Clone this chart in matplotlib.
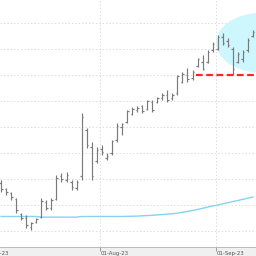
import matplotlib
matplotlib.use('Agg')
import matplotlib.pyplot as plt
from matplotlib.patches import Ellipse
from matplotlib.transforms import Bbox

# daily OHLC, trading-day index 0 = 03-Jul-23
bar_open = [43.7, 43.2, 42.9, 42.5, 41.3, 41.0, 40.3, 40.7, 41.1, 42.2,
            41.8, 42.5, 44.2, 43.9, 43.8, 43.3, 44.2, 47.8, 46.5, 45.4,
            46.3, 45.6, 46.0, 47.0, 48.0, 48.4, 49.0, 49.3, 49.6, 49.4,
            49.9, 49.9, 50.2, 50.5, 50.2, 50.6, 51.5, 52.0, 51.8, 52.7,
            53.0, 53.0, 53.9, 54.0, 54.9, 54.6, 54.0, 53.0, 53.2, 53.9,
            55.0]
bar_high = [43.92, 43.31, 43.00, 42.54, 41.38, 41.23, 40.69, 41.00, 42.54, 42.38,
            42.54, 44.31, 44.46, 44.54, 43.92, 43.92, 49.08, 47.92, 46.85, 46.46,
            46.62, 46.00, 47.00, 48.31, 48.31, 49.31, 49.54, 49.62, 49.69, 50.08,
            50.08, 50.31, 50.62, 50.85, 50.62, 52.00, 52.23, 52.54, 52.38, 53.31,
            53.54, 53.92, 54.54, 55.08, 55.23, 54.85, 54.15, 53.77, 53.92, 54.85,
            55.46]
bar_low = [43.00, 42.77, 42.38, 41.38, 40.85, 40.23, 40.08, 40.62, 41.00, 41.62,
           41.62, 42.38, 43.77, 43.77, 43.15, 43.15, 43.92, 46.38, 43.92, 45.23,
           45.85, 45.46, 45.85, 46.85, 47.38, 48.31, 48.92, 49.15, 49.08, 49.31,
           49.15, 49.85, 50.08, 49.92, 50.08, 50.46, 51.38, 51.46, 51.62, 52.62,
           52.38, 52.92, 53.77, 53.92, 54.31, 54.15, 52.00, 52.92, 53.00, 53.77,
           54.92]
bar_close = [43.2, 43.0, 42.6, 41.6, 41.0, 40.5, 40.6, 40.9, 42.3, 41.8,
             42.4, 44.1, 44.0, 44.3, 43.4, 43.8, 48.8, 46.6, 44.2, 46.2,
             46.1, 45.8, 46.9, 48.1, 48.2, 49.2, 49.4, 49.5, 49.2, 50.0,
             49.3, 50.2, 50.5, 50.1, 50.5, 51.9, 52.1, 51.7, 52.2, 53.2,
             52.5, 53.8, 54.4, 54.9, 54.5, 54.3, 52.5, 53.6, 53.8, 54.7,
             55.3]
ma_line = [41.12] * 8 + [41.07] * 8 + [41.12] * 9 + \
          [41.13, 41.14, 41.15, 41.17, 41.19, 41.21, 41.24, 41.27, 41.30, 41.33,
           41.38, 41.44, 41.51, 41.58, 41.66, 41.75, 41.84, 41.93, 42.00, 42.09,
           42.18, 42.27, 42.35, 42.44, 42.53, 42.62]

support_level = 52.0
support_start = 38.7
zone_center = (51.8, 54.48)
zone_size = (18.2, 4.62)

tick_pos = [-3.4, 19.65, 42.65]
tick_labels = ['01-Jul-23', '01-Aug-23', '01-Sep-23']
grid_levels = [40, 42, 44, 46, 48, 50, 52, 54, 56]

# wider canvas, cropped on save, so the first date label gets cut at the left edge
pad = 0.3
fig = plt.figure(figsize=(2.56 + pad, 2.56), dpi=100, facecolor='#f0f0f0')
ax = fig.add_axes([pad / (2.56 + pad), 0.035, 2.56 / (2.56 + pad), 0.965])
ax.set_facecolor('white')

idx = list(range(len(bar_open)))
ax.add_patch(Ellipse(zone_center, zone_size[0], zone_size[1], facecolor='#cdf6fd',
                     edgecolor='none', zorder=1))

ax.plot(idx, ma_line, color='#86d3ee', lw=1, zorder=2)

for g in grid_levels:
    ax.axhline(g, color='#dcdcdc', lw=0.7, ls=(0, (1.5, 2)), zorder=0)
for t in tick_pos:
    ax.axvline(t, color='#dcdcdc', lw=0.7, ls=(0, (1.5, 2)), zorder=0)

bar_color = '#7a7a7a'
ax.vlines(idx, bar_low, bar_high, color=bar_color, lw=0.85, zorder=3)
ax.hlines(bar_open, [i - 0.3 for i in idx], idx, color=bar_color, lw=0.85, zorder=3)
ax.hlines(bar_close, idx, [i + 0.3 for i in idx], color=bar_color, lw=0.85, zorder=3)

ax.hlines(support_level, support_start, len(idx) + 2, color='#ff2424', lw=1.6,
          ls=(0, (3, 1.6)), zorder=4)

ax.set_yticks([])
ax.set_xticks(tick_pos)
ax.set_xticklabels([])
# limits after the ticks, set_xticks would widen the view otherwise
ax.set_xlim(-0.2, 50.6)
ax.set_ylim(38.77, 57.77)
ax.tick_params(axis='x', direction='out', length=3, color='#999999', width=0.7)
for spine in ['top', 'left', 'right']:
    ax.spines[spine].set_visible(False)
ax.spines['bottom'].set_color('#bbbbbb')
ax.spines['bottom'].set_linewidth(0.7)

for t, lab in zip(tick_pos, tick_labels):
    ax.annotate(lab, xy=(t, 0), xycoords=('data', 'axes fraction'),
                xytext=(1, -6.5), textcoords='offset pixels', ha='left', va='center',
                fontsize=3.9, color='#555555', annotation_clip=False)

fig.savefig('out.png', dpi=100, facecolor=fig.get_facecolor(),
            bbox_inches=Bbox.from_extents(pad, 0, 2.56 + pad, 2.56))
